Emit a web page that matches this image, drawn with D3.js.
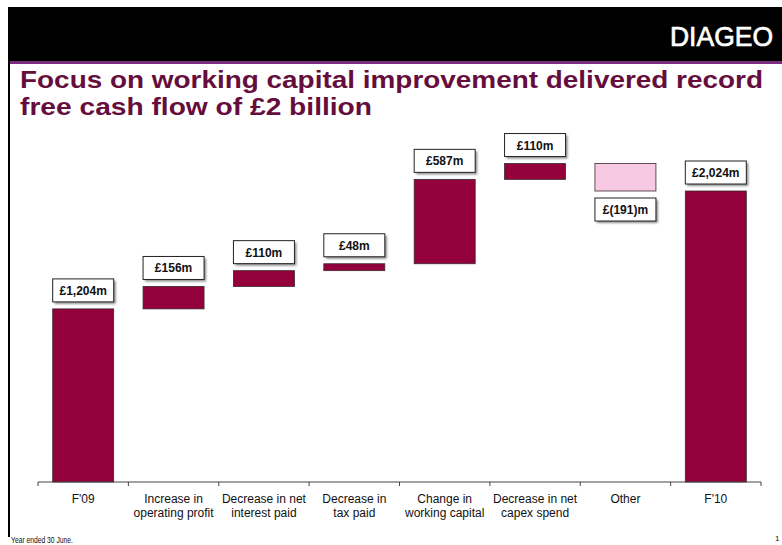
<!DOCTYPE html>
<html>
<head>
<meta charset="utf-8">
<script src="https://cdn.jsdelivr.net/npm/d3@7"></script>
<style>
  html, body { margin: 0; padding: 0; background: #fff; }
  svg { display: block; }
</style>
</head>
<body>
<svg id="chart" width="782" height="545"></svg>
<script>
// Free cash flow bridge, F'09 to F'10 (£m)
const categories = [
  "F'09", "Increase in operating profit", "Decrease in net interest paid",
  "Decrease in tax paid", "Change in working capital",
  "Decrease in net capex spend", "Other", "F'10"
];
const categoryLines = [
  ["F'09"],
  ["Increase in", "operating profit"],
  ["Decrease in net", "interest paid"],
  ["Decrease in", "tax paid"],
  ["Change in", "working capital"],
  ["Decrease in net", "capex spend"],
  ["Other"],
  ["F'10"]
];
const values = [1204, 156, 110, 48, 587, 110, -191, 2024];
const isTotal = [true, false, false, false, false, false, false, true];
const valueLabels = ["£1,204m", "£156m", "£110m", "£48m", "£587m", "£110m", "£(191)m", "£2,024m"];

const FONT = "'Liberation Sans', Arial, sans-serif";
const svg = d3.select("#chart");

// Header band, accent rule and left border
svg.append("rect").attr("x", 0).attr("y", 0).attr("width", 782).attr("height", 545).attr("fill", "#fff");
svg.append("rect").attr("x", 8).attr("y", 7).attr("width", 774).attr("height", 54).attr("fill", "#000");
svg.append("rect").attr("x", 8).attr("y", 61).attr("width", 774).attr("height", 3).attr("fill", "#7b2d80");
svg.append("rect").attr("x", 8).attr("y", 61).attr("width", 2).attr("height", 476).attr("fill", "#000");

svg.append("text")
  .attr("x", 670).attr("y", 46)
  .attr("textLength", 103).attr("lengthAdjust", "spacingAndGlyphs")
  .attr("font-family", FONT).attr("font-size", 28).attr("fill", "#fff")
  .attr("stroke", "#fff").attr("stroke-width", 0.7)
  .text("DIAGEO");

// Title
const titleLines = [
  { text: "Focus on working capital improvement delivered record", y: 88, len: 743 },
  { text: "free cash flow of £2 billion", y: 115, len: 352 }
];
svg.selectAll("text.title").data(titleLines).join("text")
  .attr("class", "title")
  .attr("x", 20).attr("y", d => d.y)
  .attr("textLength", d => d.len).attr("lengthAdjust", "spacingAndGlyphs")
  .attr("font-family", FONT).attr("font-weight", "bold").attr("font-size", 24)
  .attr("fill", "#650e3d")
  .text(d => d.text);

// Shadow filter for the value boxes
const defs = svg.append("defs");
defs.append("filter").attr("id", "soft").attr("x", "-20%").attr("y", "-20%").attr("width", "140%").attr("height", "140%")
  .append("feGaussianBlur").attr("stdDeviation", 0.8);

// Scales
const x = d3.scaleBand().domain(categories).range([38, 761]).paddingInner(0.325).paddingOuter(0.1625);
const y = d3.scaleLinear().domain([0, 2024]).range([482, 191]);

// Waterfall segments
let running = 0;
const bars = categories.map((c, i) => {
  let lo, hi;
  if (isTotal[i]) {
    lo = 0; hi = values[i]; running = values[i];
  } else {
    const start = running;
    running += values[i];
    lo = Math.min(start, running); hi = Math.max(start, running);
  }
  return { c, i, lo, hi, v: values[i], label: valueLabels[i] };
});

svg.selectAll("rect.bar").data(bars).join("rect")
  .attr("class", "bar")
  .attr("x", d => x(d.c))
  .attr("y", d => y(d.hi))
  .attr("width", x.bandwidth())
  .attr("height", d => y(d.lo) - y(d.hi))
  .attr("fill", d => d.v < 0 ? "#f8c9e3" : "#93003b")
  .attr("stroke", "#3a2a30").attr("stroke-width", 0.8);

// Value boxes: above rising bars, below falling ones
const boxH = 23, gap = 7;
const boxes = svg.selectAll("g.vbox").data(bars).join("g")
  .attr("class", "vbox")
  .attr("transform", d => {
    const top = d.v < 0 ? y(d.lo) + gap : y(d.hi) - gap - boxH;
    return `translate(${x(d.c)},${top})`;
  });
boxes.append("rect")
  .attr("x", 2).attr("y", 2).attr("width", x.bandwidth()).attr("height", boxH)
  .attr("fill", "#8a8a8a").attr("filter", "url(#soft)");
boxes.append("rect")
  .attr("x", 0).attr("y", 0).attr("width", x.bandwidth()).attr("height", boxH)
  .attr("fill", "#fff").attr("stroke", "#222").attr("stroke-width", 1);
boxes.append("text")
  .attr("x", x.bandwidth() / 2).attr("y", boxH / 2 + 4.5)
  .attr("text-anchor", "middle")
  .attr("font-family", FONT).attr("font-weight", "bold").attr("font-size", 12).attr("fill", "#111")
  .text(d => d.label);

// Category axis with ticks at band boundaries
const axisY = 482;
const step = x.step();
const x0 = x.range()[0];
const tickX = d3.range(categories.length + 1).map(k => x0 + k * step);
svg.append("line")
  .attr("x1", x0).attr("x2", x.range()[1]).attr("y1", axisY).attr("y2", axisY)
  .attr("stroke", "#444").attr("stroke-width", 1);
svg.selectAll("line.tick").data(tickX).join("line")
  .attr("class", "tick")
  .attr("x1", d => d).attr("x2", d => d).attr("y1", axisY).attr("y2", axisY + 4)
  .attr("stroke", "#444").attr("stroke-width", 1);

const catText = svg.selectAll("text.cat").data(categories).join("text")
  .attr("class", "cat")
  .attr("text-anchor", "middle")
  .attr("font-family", FONT).attr("font-size", 12).attr("fill", "#111");
catText.each(function (c, i) {
  d3.select(this).selectAll("tspan").data(categoryLines[i]).join("tspan")
    .attr("x", x(c) + x.bandwidth() / 2)
    .attr("y", (d, j) => 503 + j * 14)
    .text(d => d);
});

// Footer
svg.append("text").attr("x", 11).attr("y", 543)
  .attr("textLength", 62).attr("lengthAdjust", "spacingAndGlyphs")
  .attr("font-family", FONT).attr("font-size", 8.5).attr("fill", "#111")
  .text("Year ended 30 June.");
svg.append("text").attr("x", 775).attr("y", 541)
  .attr("font-family", FONT).attr("font-size", 8).attr("fill", "#111")
  .text("1");
</script>
</body>
</html>
